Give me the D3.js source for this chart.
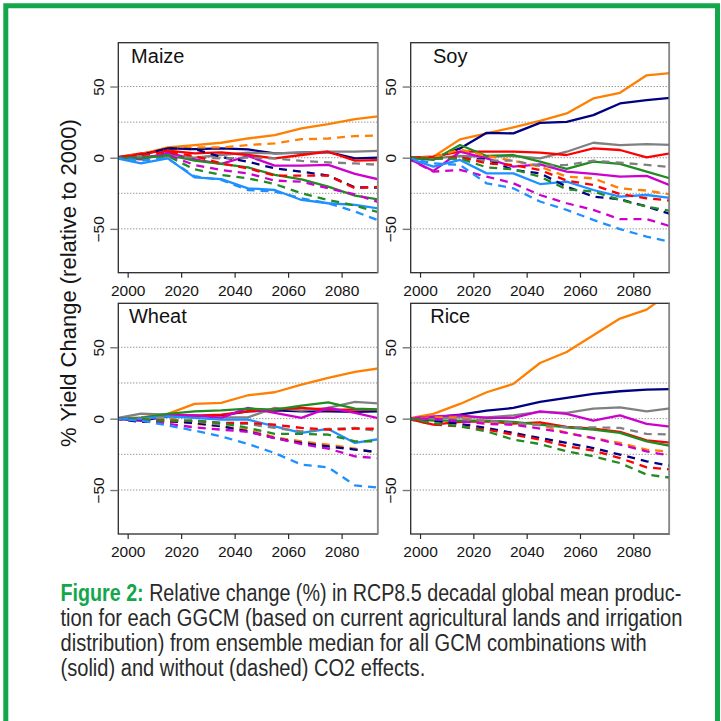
<!DOCTYPE html>
<html><head><meta charset="utf-8">
<script src="https://cdn.jsdelivr.net/npm/d3@7/dist/d3.min.js"></script>
<style>html,body{margin:0;padding:0;background:#fff;}svg{display:block;}</style>
</head><body>
<svg id="chart" width="721" height="721"></svg>
<script>
// ---- data ----
const years = [1995, 2005, 2015, 2025, 2035, 2045, 2055, 2065, 2075, 2085, 2095];
const xTicks = [2000, 2020, 2040, 2060, 2080];
const yTicks = [-50, 0, 50];
const yGrid = [-50, -25, 0, 25, 50];
const models = ["orange", "navy", "gray", "red", "magenta", "green", "blue"];
const modelColors = ["#FF7F00", "#000080", "#808080", "#FF0000", "#CD00CD", "#228B22", "#1E90FF"];
const crops = ["Maize", "Soy", "Wheat", "Rice"];

// with CO2 effects (solid), one row per model in the order of `models`
const maizeCO2 = [
  [0, 2.6, 7.2, 8.9, 10.5, 13.5, 15.9, 20.6, 23.6, 27.1, 29.4],
  [0, 1.9, 6.5, 6.0, 6.5, 5.8, 3.0, 3.5, 4.0, -0.5, 0.2],
  [0, 1.2, 0.7, 0, 1.9, 3.5, 3.0, 3.5, 4.2, 4.2, 4.9],
  [0, 3.0, 4.9, 3.0, 3.7, 1.9, -0.5, 1.9, 4.2, -2.1, -1.6],
  [0, -1.2, 3.5, -1.2, -4.4, 1.2, -5.6, -5.6, -5.1, -11.4, -15.7],
  [0, -0.5, 1.9, -2.1, -4.4, -6.8, -12.1, -15.2, -20.3, -26.6, -29.7],
  [0, -4.0, -0.5, -13.8, -15.0, -21.5, -22.7, -29.7, -32.0, -33.2, -36.0]
];
// without CO2 effects (dashed)
const maizeNoCO2 = [
  [0, 2.6, 6.0, 7.2, 7.2, 8.9, 10.0, 13.0, 13.5, 15.2, 15.6],
  [0, 1.9, 6.5, 6.0, 0.5, -2.8, -7.5, -9.8, -12.6, -20.8, -21.0],
  [0, 0.5, 0.7, 0.2, -0.5, 0, -0.5, -2.3, -3.3, -4.0, -5.1],
  [0, 2.0, 4.2, 1.2, -4.0, -7.5, -12.6, -12.6, -12.6, -21.5, -20.3],
  [0, 0, 1.9, -5.1, -8.6, -11.0, -16.1, -16.8, -21.5, -25.7, -32.0],
  [0, 0, 1.2, -8.2, -12.1, -14.5, -18.5, -25.0, -29.7, -33.6, -39.0],
  [0, -2.0, -0.5, -13.0, -15.7, -22.7, -23.8, -28.5, -32.0, -37.8, -44.9]
];
const soyCO2 = [
  [0, 0.7, 12.9, 17.1, 21.3, 25.9, 31.1, 41.6, 45.6, 57.9, 59.6],
  [0, -0.5, 6.5, 17.5, 17.1, 24.5, 25.2, 29.9, 38.1, 40.4, 42.3],
  [0, -0.5, 1.2, 0.7, 1.2, -0.5, 4.2, 10.5, 8.9, 9.6, 8.9],
  [0, 0.7, 4.2, 4.2, 4.2, 3.5, 1.9, 6.5, 5.4, 0.2, 3.5],
  [0, -9.3, 4.2, -0.5, -6.3, -4.7, -9.8, -11.4, -13.3, -12.8, -20.3],
  [0, -1.6, 8.9, 1.2, 1.9, -2.8, -7.9, -2.8, -4.4, -9.8, -15.2],
  [0, -6.3, -1.6, -11.0, -11.0, -18.5, -16.8, -22.7, -27.3, -26.2, -28.5]
];
const soyNoCO2 = [
  [0, 0.2, 5.8, 1.2, -2.1, -6.3, -13.3, -14.5, -21.5, -23.1, -26.2],
  [0, -0.5, -0.5, -1.2, -8.6, -11.0, -20.3, -27.3, -29.2, -34.3, -40.2],
  [0, -0.5, -0.5, -2.1, -2.1, -5.8, -5.1, -2.1, -3.5, -5.1, -6.8],
  [0, -0.5, 0.5, -4.0, -5.1, -8.6, -16.1, -19.2, -25.5, -28.5, -30.4],
  [0, -9.8, -8.6, -13.3, -18.0, -26.2, -32.0, -36.7, -43.2, -43.2, -48.8],
  [0, -0.5, -0.5, -6.8, -8.2, -13.3, -22.2, -23.8, -29.7, -34.3, -37.8],
  [0, -4.0, -5.1, -18.0, -21.5, -30.8, -36.7, -43.7, -50.2, -55.4, -59.6]
];
const wheatCO2 = [
  [0, 0.9, 3.3, 10.3, 11.0, 16.4, 18.5, 23.8, 28.5, 32.7, 35.5],
  [0, -1.4, 1.6, 1.6, 2.3, 5.1, 5.8, 5.1, 5.1, 4.7, 5.1],
  [0, 3.5, 2.8, 2.3, 0.9, 0.9, 7.5, 5.6, 7.5, 11.7, 10.5],
  [0, -0.2, 2.8, 2.1, 2.8, 5.1, 6.3, 7.5, 6.3, 6.3, 6.3],
  [0, -0.7, 2.3, 2.3, 0.5, 7.5, 4.0, 0.5, 7.5, 4.0, -0.2],
  [0, 0.5, 3.3, 5.1, 5.8, 7.0, 6.3, 9.1, 11.4, 7.0, 6.3],
  [0, 0, 1.6, 0.5, -0.7, -0.7, -5.4, -10.0, -7.2, -17.0, -14.0]
];
const wheatNoCO2 = [
  [0, -0.5, 0.5, -3.7, -5.4, -7.7, -13.1, -15.9, -18.2, -21.0, -24.8],
  [0, -2.3, -1.9, -3.0, -5.4, -8.9, -13.6, -17.0, -19.4, -21.7, -23.6],
  [0, -0.5, -0.5, -1.9, -4.2, -3.7, -6.5, -8.9, -7.2, -6.5, -8.9],
  [0, -0.5, -1.9, -1.4, -3.0, -3.0, -4.2, -6.5, -7.7, -7.0, -7.0],
  [0, -1.4, -3.7, -6.1, -7.7, -9.3, -13.6, -17.8, -21.0, -26.4, -28.0],
  [0, -0.5, -1.4, -1.4, -3.0, -6.5, -10.7, -10.7, -11.2, -15.9, -15.9],
  [0, -1.4, -4.7, -8.4, -12.4, -17.8, -24.1, -32.2, -34.1, -46.7, -48.6]
];
const riceCO2 = [
  [0, 3.3, 10.3, 18.5, 24.3, 39.0, 46.7, 58.4, 70.1, 76.4, 90.0],
  [0, 0.9, 2.8, 5.6, 7.5, 11.7, 14.5, 17.3, 19.2, 20.3, 20.8],
  [0, 0, 0.9, 0.9, 2.3, 4.7, 4.0, 7.0, 7.9, 5.1, 7.5],
  [0, -4.2, -2.3, -1.9, -3.5, -2.6, -5.8, -7.0, -9.3, -15.2, -17.0],
  [0, 1.6, 2.3, 0.5, 0.5, 5.1, 3.3, -1.4, 2.3, -3.7, -5.8],
  [0, -1.4, -1.4, -1.4, -2.3, -4.2, -6.1, -7.7, -10.0, -15.9, -19.4],
  null
];
const riceNoCO2 = [
  [0, 0.9, 0.9, -1.9, -4.2, -4.2, -10.0, -13.6, -17.0, -21.7, -23.4],
  [0, -1.4, -3.7, -6.5, -10.0, -13.6, -17.0, -20.6, -25.2, -29.9, -33.4],
  [0, -0.5, -0.5, -1.4, -3.0, -4.7, -6.1, -6.1, -6.5, -10.7, -11.2],
  [0, -4.2, -5.4, -7.7, -11.2, -14.7, -19.4, -22.4, -27.6, -34.1, -35.7],
  [0, 0, -1.9, -3.7, -4.2, -7.0, -10.0, -13.6, -18.2, -22.9, -26.4],
  [0, -3.0, -5.4, -8.9, -14.7, -17.8, -22.9, -26.4, -31.1, -39.2, -41.6],
  null
];
const solidData = [maizeCO2, soyCO2, wheatCO2, riceCO2];
const dashedData = [maizeNoCO2, soyNoCO2, wheatNoCO2, riceNoCO2];

const yTitle = "% Yield Change (relative to 2000)";
const captionLabel = "Figure 2:";
const captionLines = [
  " Relative change (%) in RCP8.5 decadal global mean produc-",
  "tion for each GGCM (based on current agricultural lands and irrigation",
  "distribution) from ensemble median for all GCM combinations with",
  "(solid) and without (dashed) CO2 effects."
];

// ---- layout ----
const svg = d3.select("#chart");
const green = "#14a64b";
const font = "'Liberation Sans', Arial, Helvetica, sans-serif";
const panels = [
  {l: 118.3, r: 377.7, t: 42.7, b: 272.7},
  {l: 410.7, r: 669.3, t: 42.7, b: 272.7},
  {l: 118.3, r: 377.7, t: 303.3, b: 534},
  {l: 410.7, r: 669.3, t: 303.3, b: 534}
];

// green frame (left, top, right)
svg.append("path")
  .attr("d", "M5.8,721 L5.8,5.8 L717.5,5.8 L717.5,721")
  .attr("fill", "none").attr("stroke", green).attr("stroke-width", 5);

const defs = svg.append("defs");

crops.forEach((crop, i) => {
  const p = panels[i];
  const x = d3.scaleLinear().domain([1996.5, 2093.5]).range([p.l, p.r]);
  const y = d3.scaleLinear().domain([-80.8, 80.8]).range([p.b, p.t]);
  const g = svg.append("g");

  defs.append("clipPath").attr("id", "clip" + i)
    .append("rect").attr("x", p.l).attr("y", p.t).attr("width", p.r - p.l).attr("height", p.b - p.t);

  // grid
  g.selectAll(".grid").data(yGrid).join("line")
    .attr("x1", p.l).attr("x2", p.r)
    .attr("y1", d => y(d)).attr("y2", d => y(d))
    .attr("stroke", "#6a6a6a").attr("stroke-width", 1).attr("stroke-dasharray", "1,2");

  // lines
  const line = d3.line().x((d, k) => x(years[k])).y(d => y(d));
  const lg = g.append("g").attr("clip-path", `url(#clip${i})`);
  solidData[i].forEach((vals, m) => {
    if (!vals) return;
    lg.append("path").attr("d", line(vals)).attr("fill", "none")
      .attr("stroke", modelColors[m]).attr("stroke-width", 2.3)
      .attr("stroke-linejoin", "round");
  });
  dashedData[i].forEach((vals, m) => {
    if (!vals) return;
    lg.append("path").attr("d", line(vals)).attr("fill", "none")
      .attr("stroke", modelColors[m]).attr("stroke-width", 2.3)
      .attr("stroke-dasharray", "8,6");
  });

  // box
  g.append("rect").attr("x", p.l).attr("y", p.t).attr("width", p.r - p.l).attr("height", p.b - p.t)
    .attr("fill", "none").attr("stroke", "#2b2b2b").attr("stroke-width", 1.3);
  g.append("line").attr("x1", p.r).attr("x2", p.r).attr("y1", p.t).attr("y2", p.b)
    .attr("stroke", "#8a8a8a").attr("stroke-width", 1.6);

  // x axis
  const xa = g.append("g").attr("transform", `translate(0,${p.b})`)
    .call(d3.axisBottom(x).tickValues(xTicks).tickSize(5).tickFormat(d3.format("d")));
  xa.select(".domain").remove();
  xa.selectAll("line").attr("stroke", "#2b2b2b").attr("stroke-width", 1.2);
  xa.selectAll("text").attr("y", 23).attr("dy", 0)
    .attr("font-family", font).attr("font-size", 15.5).attr("fill", "#151515");

  // y axis
  const ya = g.append("g").attr("transform", `translate(${p.l},0)`)
    .call(d3.axisLeft(y).tickValues(yTicks).tickSize(8).tickFormat(d => d < 0 ? "\u2212" + Math.abs(d) : d));
  ya.select(".domain").remove();
  ya.selectAll("line").attr("stroke", "#777").attr("stroke-width", 1.4);
  ya.selectAll("text")
    .attr("x", 0).attr("y", -14.3).attr("dy", 0)
    .attr("transform", "rotate(-90)")
    .attr("text-anchor", "middle")
    .attr("font-family", font).attr("font-size", 15.5).attr("fill", "#151515");

  // title
  g.append("text").attr("x", p.l + 39.5).attr("y", p.t + 19.8)
    .attr("text-anchor", "middle").attr("font-family", font).attr("font-size", 20)
    .attr("fill", "#111").text(crop);
});

// y-axis title
svg.append("text")
  .attr("transform", "translate(76,283) rotate(-90)")
  .attr("text-anchor", "middle").attr("font-family", font).attr("font-size", 22)
  .attr("fill", "#151515").text(yTitle);

// caption: a wide font squeezed horizontally (scale transform) to the measured line widths
const capFont = "'Liberation Sans Narrow', 'Arial Narrow', 'Liberation Sans', Arial, sans-serif";
const capX = 60.5;
const capBase = [601, 626, 651, 676];
const capEnds = [681.7, 682.7, 646.7, null];
const capEls = captionLines.map((txt, k) => {
  const t = svg.append("text").attr("x", 0).attr("y", 0)
    .attr("font-family", capFont).attr("font-size", 23.5).attr("fill", "#2a2a2a");
  if (k === 0) {
    t.append("tspan").attr("font-weight", "bold").attr("fill", green).text(captionLabel);
    t.append("tspan").text(txt);
  } else {
    t.text(txt);
  }
  return t;
});
const nat = capEls.map(t => t.node().getComputedTextLength());
const scale3 = (capEnds[2] - capX) / nat[2];
capEls.forEach((t, k) => {
  const sx = capEnds[k] !== null ? (capEnds[k] - capX) / nat[k] : scale3;
  t.attr("transform", `translate(${capX},${capBase[k]}) scale(${sx},1)`);
});
</script>
</body></html>
